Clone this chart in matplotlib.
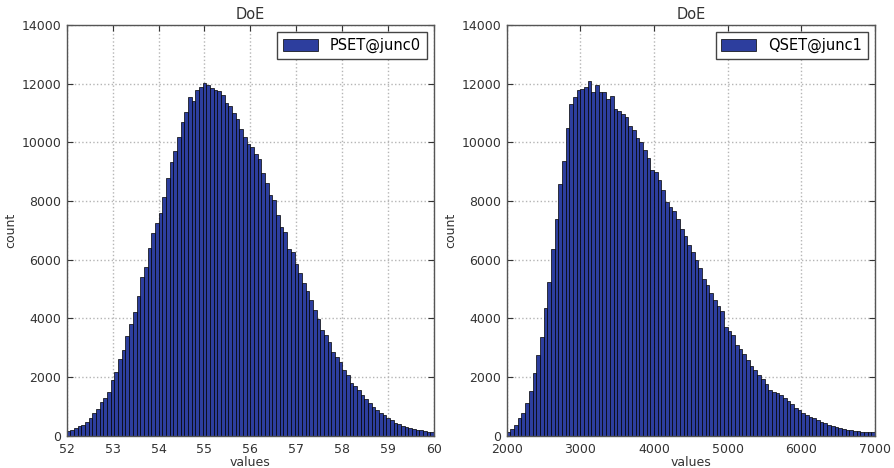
import numpy as np
import matplotlib
matplotlib.use("Agg")
import matplotlib.pyplot as plt

# histogram counts, 100 bins per panel
pset_range = (52, 60)
pset_counts = [
    150, 200, 260, 320, 380, 480, 600, 760, 900, 1150,
    1300, 1500, 1900, 2180, 2620, 2920, 3400, 3800, 4230, 4760,
    5420, 5760, 6400, 6900, 7250, 7600, 8150, 8770, 9340, 9700,
    10190, 10700, 11040, 11530, 11420, 11780, 11890, 12010, 11950, 11840,
    11780, 11750, 11610, 11330, 11230, 10990, 10780, 10470, 10190, 9960,
    9850, 9600, 9420, 8940, 8600, 8200, 8030, 7520, 7120, 6950,
    6350, 6270, 5870, 5530, 5190, 4940, 4620, 4300, 3980, 3620,
    3430, 3200, 2860, 2690, 2500, 2250, 2060, 1800, 1700, 1550,
    1400, 1240, 1100, 970, 860, 770, 690, 600, 520, 450,
    390, 330, 290, 260, 240, 210, 180, 160, 140, 125,
]

qset_range = (2000, 7000)
qset_counts = [
    140, 215, 350, 590, 760, 1130, 1530, 2140, 2750, 3370,
    4370, 5240, 6350, 7400, 8580, 9380, 10500, 11300, 11530, 11800,
    11820, 11880, 12100, 11700, 11950, 11720, 11720, 11480, 11580, 11120,
    11080, 10970, 10880, 10550, 10420, 10160, 10020, 9750, 9450, 9070,
    9000, 8730, 8380, 7970, 7800, 7660, 7370, 7050, 6800, 6510,
    6270, 6000, 5700, 5350, 5150, 4850, 4620, 4420, 4250, 3700,
    3570, 3420, 3100, 2940, 2800, 2580, 2380, 2230, 2080, 1950,
    1750, 1560, 1500, 1460, 1400, 1300, 1180, 1070, 950, 860,
    770, 700, 650, 590, 530, 470, 420, 370, 330, 290,
    250, 230, 200, 185, 170, 155, 140, 130, 120, 110,
]

panels = [
    ("PSET@junc0", pset_range, pset_counts, [52, 53, 54, 55, 56, 57, 58, 59, 60]),
    ("QSET@junc1", qset_range, qset_counts, [2000, 3000, 4000, 5000, 6000, 7000]),
]
yticks = [0, 2000, 4000, 6000, 8000, 10000, 12000, 14000]

bar_color = "#2d3e9e"

fig = plt.figure(figsize=(8.94, 4.68), dpi=100)
positions = [[0.0746, 0.069, 0.411, 0.8776], [0.5668, 0.069, 0.412, 0.8776]]

for pos, (label, (lo, hi), counts, xticks) in zip(positions, panels):
    ax = fig.add_axes(pos)
    edges = np.linspace(lo, hi, len(counts) + 1)
    ax.bar(edges[:-1], counts, width=np.diff(edges), align="edge",
           color=bar_color, edgecolor="black", linewidth=0.5, label=label)

    ax.set_xlim(lo, hi)
    ax.set_ylim(0, 14000)
    ax.set_xticks(xticks)
    ax.set_yticks(yticks)
    ax.grid(True, color="#b5b5b5", linestyle=":", linewidth=1.0)
    ax.set_axisbelow(True)

    ax.tick_params(direction="in", top=True, right=True, labelsize=9,
                   colors="#333333", length=4)
    ax.tick_params(axis="y", pad=4)
    ax.tick_params(axis="x", pad=5)
    for sp in ax.spines.values():
        sp.set_color("#555555")
        sp.set_linewidth(1.0)

    ax.set_title("DoE", fontsize=10.5, color="#333333", pad=4)
    ax.set_xlabel("values", fontsize=9, color="#333333", labelpad=0)
    ax.set_ylabel("count", fontsize=9, color="#333333", labelpad=3)

    leg = ax.legend(loc="upper right", fontsize=10.5, fancybox=False,
                    framealpha=1, edgecolor="#444444", borderaxespad=0.5,
                    handlelength=2.4, handleheight=0.9)
    leg.get_frame().set_linewidth(1.0)

fig.savefig("out.png", dpi=100)
